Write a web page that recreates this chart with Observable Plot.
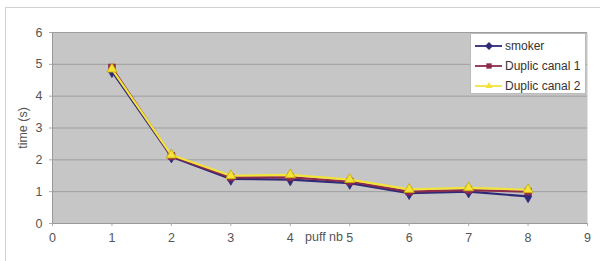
<!DOCTYPE html>
<html>
<head>
<meta charset="utf-8">
<script src="https://cdn.jsdelivr.net/npm/d3@7"></script>
<script src="https://cdn.jsdelivr.net/npm/@observablehq/plot@0.6"></script>
<style>
  html, body { margin: 0; padding: 0; background: #fff; }
  #wrap { position: relative; width: 600px; height: 261px; overflow: hidden; font-family: "Liberation Sans", Arial, sans-serif; }
  #outer { position: absolute; left: 5px; top: 7px; width: 700px; height: 400px; border-left: 1px solid #d0d0d0; border-top: 1px solid #d0d0d0; }
  #chart { position: absolute; left: 0; top: 0; }
  #legend { position: absolute; left: 470px; top: 33px; width: 116px; height: 61px; background: #fff; border: 1px solid #bbb; box-sizing: border-box; }
  .row { position: absolute; left: 3px; height: 16px; display: flex; align-items: center; font-size: 12px; color: #333; }
  .row svg { margin-right: 2px; }
</style>
</head>
<body>
<div id="wrap">
  <div id="outer"></div>
  <div id="chart"></div>
  <div id="legend"></div>
</div>
<script>
const puffs = [1, 2, 3, 4, 5, 6, 7, 8];
const smoker = [4.78, 2.1, 1.4, 1.38, 1.27, 0.95, 1.0, 0.85];
const canal1 = [4.9, 2.12, 1.45, 1.45, 1.32, 1.0, 1.05, 1.0];
const canal2 = [4.85, 2.15, 1.5, 1.53, 1.38, 1.07, 1.12, 1.06];
const seriesNames = ["smoker", "Duplic canal 1", "Duplic canal 2"];
const seriesColors = ["#2e2a78", "#8e2a4e", "#f2e43a"];
const seriesSymbols = ["diamond", "square", "triangle"];
const xTicks = [0, 1, 2, 3, 4, 5, 6, 7, 8, 9];
const yTicks = [0, 1, 2, 3, 4, 5, 6];
const xLabel = "puff nb";
const yLabel = "time (s)";

const allSeries = [smoker, canal1, canal2];
const data = [];
allSeries.forEach((vals, si) => {
  vals.forEach((v, i) => data.push({puff: puffs[i], time: v, series: seriesNames[si]}));
});

const marks = [
  Plot.frame({fill: "#c6c6c6", stroke: null}),
  Plot.gridY(yTicks, {stroke: "#9e9e9e", strokeOpacity: 1, strokeWidth: 1}),
  Plot.ruleX([0], {stroke: "#999"}),
  Plot.ruleY([0], {stroke: "#999"}),
  Plot.axisX(xTicks, {tickSize: 3, tickPadding: 7, fontSize: 12.5, color: "#555", stroke: "#aaa", label: null}),
  Plot.axisY(yTicks, {tickSize: 3, tickPadding: 7, fontSize: 12.5, color: "#555", stroke: "#aaa",
    label: yLabel, labelAnchor: "center", labelArrow: "none", labelOffset: 34}),
  Plot.text([xLabel], {frameAnchor: "bottom", textAnchor: "end", dx: 23, dy: 17, fontSize: 12.5, fill: "#555"})
];
seriesNames.forEach((name, si) => {
  const d = data.filter(r => r.series === name);
  marks.push(Plot.line(d, {x: "puff", y: "time", stroke: seriesColors[si], strokeWidth: 2.2}));
  marks.push(Plot.dot(d, {x: "puff", y: "time", symbol: () => seriesSymbols[si], fill: seriesColors[si],
    stroke: si === 2 ? "#c8a800" : seriesColors[si], strokeWidth: 0.8, r: 3.8}));
});

const chart = Plot.plot({
  width: 600,
  height: 261,
  marginLeft: 52,
  marginRight: 13,
  marginTop: 32,
  marginBottom: 38,
  style: {background: "transparent", fontFamily: "Liberation Sans, Arial, sans-serif", fontSize: "12.5px", color: "#555"},
  x: {domain: [0, 9]},
  y: {domain: [0, 6]},
  symbol: {type: "identity"},
  marks
});
document.getElementById("chart").appendChild(chart);

const legend = document.getElementById("legend");
const symPaths = {
  diamond: d3.symbol(d3.symbolDiamond2, 40)(),
  square: d3.symbol(d3.symbolSquare2, 36)(),
  triangle: d3.symbol(d3.symbolTriangle2, 36)()
};
seriesNames.forEach((name, i) => {
  const row = document.createElement("div");
  row.className = "row";
  row.style.top = (4 + i * 20) + "px";
  row.innerHTML = `<svg width="29" height="12"><line x1="1" x2="28" y1="6" y2="6" stroke="${seriesColors[i]}" stroke-width="1.8"/><path transform="translate(15,6)" d="${symPaths[seriesSymbols[i]]}" fill="${seriesColors[i]}"/></svg><span>${name}</span>`;
  legend.appendChild(row);
});
</script>
</body>
</html>
